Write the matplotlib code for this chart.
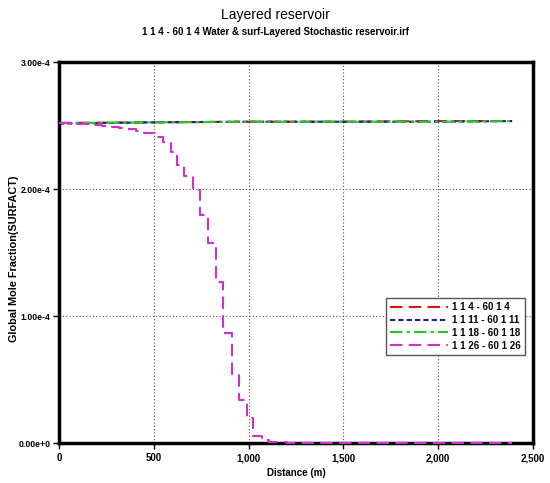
import matplotlib
matplotlib.use("Agg")
import matplotlib.pyplot as plt
from matplotlib.ticker import FixedLocator, FuncFormatter

# ---- data ----
flat_x = [0, 500, 1000, 1500, 2000, 2390]
red_y = [2.52e-4, 2.525e-4, 2.53e-4, 2.53e-4, 2.535e-4, 2.535e-4]
blue_y = [2.515e-4, 2.525e-4, 2.53e-4, 2.53e-4, 2.53e-4, 2.535e-4]
green_y = [2.52e-4, 2.525e-4, 2.53e-4, 2.53e-4, 2.53e-4, 2.535e-4]

mag_x = [0, 45, 90, 135, 180, 225, 270, 315, 360, 405, 450, 505, 547, 591, 621,
         661, 705, 744, 787, 828, 867, 911, 949, 990, 1025, 1069, 1110, 1150,
         1200, 2390]
mag_y = [2.52e-4, 2.52e-4, 2.515e-4, 2.51e-4, 2.505e-4, 2.50e-4, 2.49e-4,
         2.48e-4, 2.47e-4, 2.46e-4, 2.44e-4, 2.41e-4, 2.37e-4, 2.29e-4,
         2.19e-4, 2.10e-4, 1.99e-4, 1.795e-4, 1.577e-4, 1.27e-4, 0.864e-4,
         0.541e-4, 0.339e-4, 0.194e-4, 0.055e-4, 0.024e-4, 0.01e-4, 0.004e-4,
         0.0, 0.0]

labels = ["1 1 4 - 60 1 4", "1 1 11 - 60 1 11", "1 1 18 - 60 1 18", "1 1 26 - 60 1 26"]
x_ticks = [0, 500, 1000, 1500, 2000, 2500]
y_ticks = [0, 1e-4, 2e-4, 3e-4]
y_tick_labels = ["0.00e+0", "1.00e-4", "2.00e-4", "3.00e-4"]

plt.rcParams['font.family'] = ["Liberation Sans Narrow", "Liberation Sans", "DejaVu Sans"]
plt.rcParams['font.stretch'] = 'condensed'

fig = plt.figure(figsize=(5.5, 4.83), dpi=100)
ax = fig.add_axes([0.1073, 0.0828, 0.8617, 0.7888])

ax.plot(flat_x, red_y, color="#e01010", lw=1.5, ls=(0, (6, 3)), label=labels[0])
ax.plot(flat_x, blue_y, color="#1a1a9a", lw=1.5, ls=(0, (2.5, 1.5)), label=labels[1])
ax.plot(flat_x, green_y, color="#22cc22", lw=1.5, ls=(0, (6, 2, 1.5, 2)), label=labels[2])
ax.plot(mag_x, mag_y, color="#d030d0", lw=1.5, ls=(0, (6, 3)), drawstyle="steps-post",
        label=labels[3], clip_on=False, zorder=5)

ax.set_xlim(0, 2500)
ax.set_ylim(0, 3e-4)
ax.xaxis.set_major_locator(FixedLocator(x_ticks))
ax.yaxis.set_major_locator(FixedLocator(y_ticks))
ax.xaxis.set_major_formatter(FuncFormatter(lambda v, p: f"{int(v):,}"))
ax.set_yticklabels(y_tick_labels)

ax.grid(True, color="#555555", ls=(0, (1, 2)), lw=0.8)
for s in ax.spines.values():
    s.set_linewidth(2.5)
    s.set_color("black")
    s.set_zorder(4)
ax.tick_params(direction="out", length=4, width=1, labelsize=7)
ax.tick_params(axis="y", labelsize=6.2, pad=2)
for t in ax.get_xticklabels() + ax.get_yticklabels():
    t.set_fontweight("bold")

ax.set_xlabel("Distance (m)", fontsize=7, fontweight="bold", labelpad=3)
fig.text(0.026, 0.465, "Global Mole Fraction(SURFACT)", rotation=90, ha="center",
         va="center", fontsize=7.8, fontweight="bold")

fig.text(0.5, 0.969, "Layered reservoir", ha="center", va="center", fontsize=10,
         family=["Liberation Sans", "DejaVu Sans"])
fig.text(0.5, 0.934, "1 1 4 - 60 1 4 Water & surf-Layered Stochastic reservoir.irf",
         ha="center", va="center", fontsize=7, fontweight="bold")

leg = ax.legend(loc="upper left", bbox_to_anchor=(0.68, 0.393), fontsize=7,
                handlelength=6, fancybox=False, framealpha=1, edgecolor="#555555",
                borderpad=0.4, labelspacing=0.3, handletextpad=0.4)
leg.get_frame().set_linewidth(1.0)
leg.set_zorder(6)
for t in leg.get_texts():
    t.set_fontweight("bold")

fig.savefig("out.png", dpi=100)
